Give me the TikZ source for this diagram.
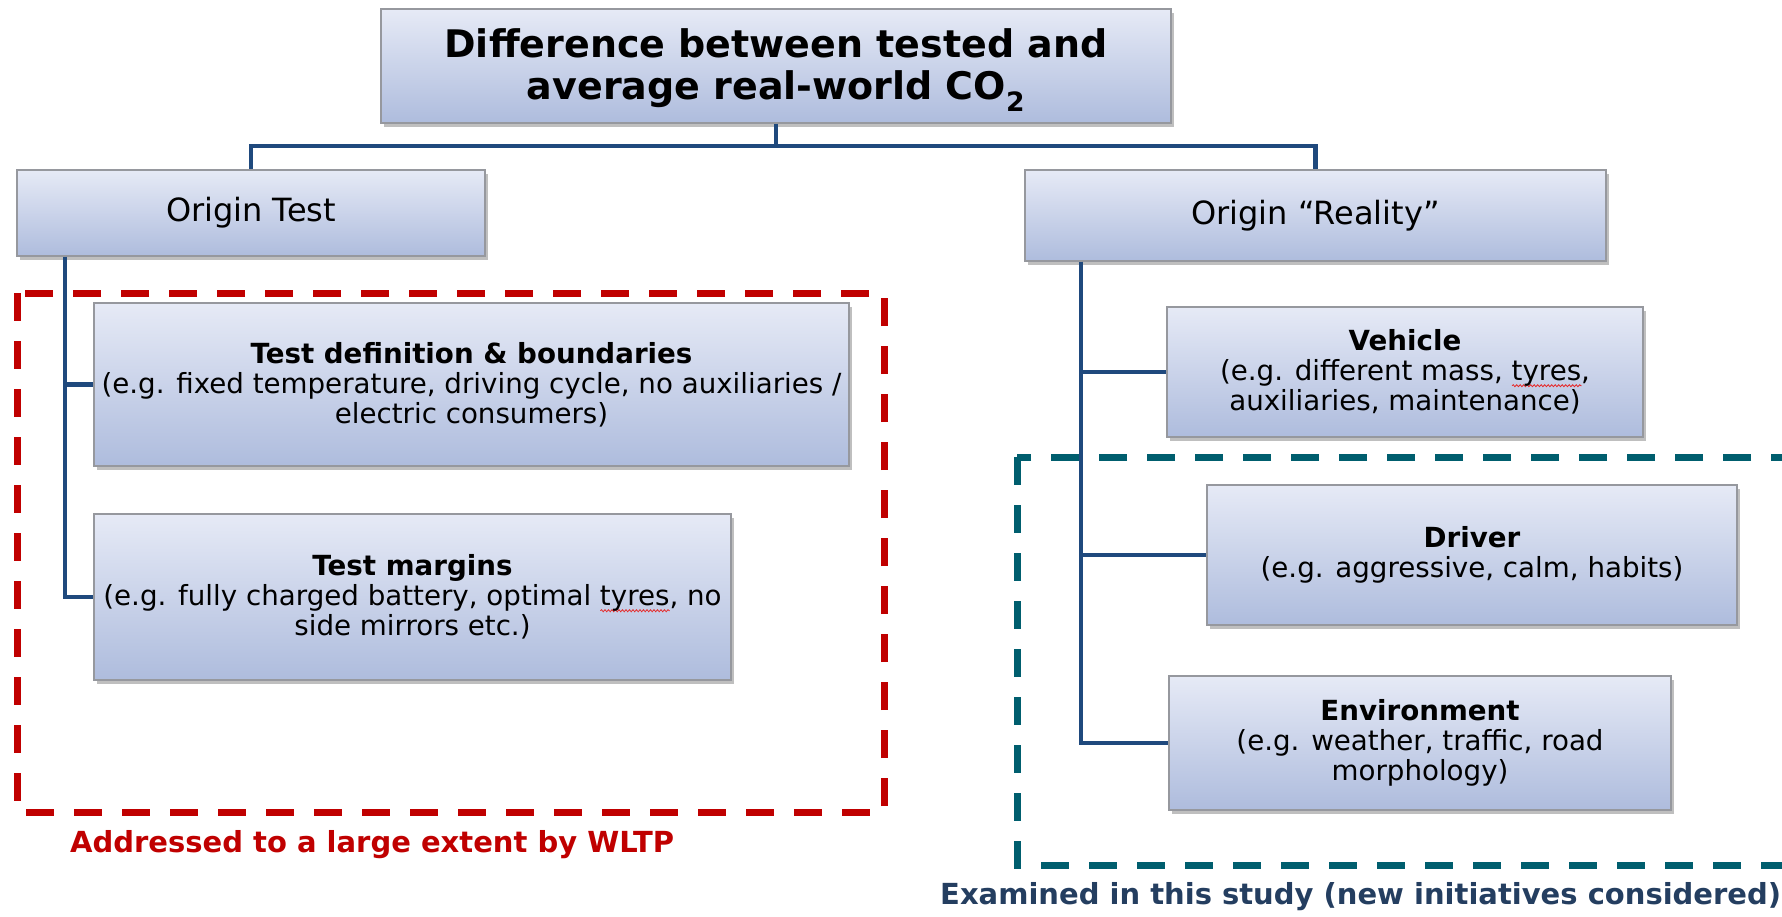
\documentclass[tikz,border=0pt]{standalone}
\usepackage{fontspec}
\setmainfont{DejaVu Sans}
\usetikzlibrary{shadows,calc,decorations.pathmorphing}
\definecolor{conn}{RGB}{31,73,125}
\definecolor{redd}{RGB}{192,0,0}
\definecolor{tealc}{RGB}{0,94,110}
\definecolor{navyc}{RGB}{36,62,96}
\definecolor{boxtop}{RGB}{230,234,246}
\definecolor{boxbot}{RGB}{174,188,221}
\definecolor{boxline}{RGB}{150,152,158}
\definecolor{squigred}{RGB}{230,40,40}
\newsavebox\squigbox
\newcommand\squig[1]{\sbox\squigbox{#1}\rlap{\tikz[baseline=0pt,x=1pt,y=1pt]\draw[squigred,line width=0.8pt,decorate,decoration={snake,amplitude=1pt,segment length=3.5pt}] (0,-5) -- (\the\wd\squigbox,-5);}#1}
\newcommand\bodyfont{\fontsize{27.7}{30}\selectfont}
\begin{document}
\begin{tikzpicture}[x=1pt,y=-1pt,
  pbox/.style={draw=boxline, line width=1.6pt, top color=boxtop, bottom color=boxbot,
    drop shadow={shadow xshift=3pt, shadow yshift=-4pt, opacity=0.25, fill=black},
    align=center, inner sep=0pt, font=\bodyfont},
  conline/.style={draw=conn, line width=4.5pt},
  dashbox/.style={line width=7pt, dash pattern=on 28pt off 20pt},
  lbl/.style={anchor=base west, inner sep=0pt, font=\fontsize{29}{32}\selectfont\bfseries}]
\useasboundingbox (0,0) rectangle (1782,916);
\fill[white] (0,0) rectangle (1782,916);
\clip (0,0) rectangle (1782,916);

% dashed frames
\draw[dashbox, draw=redd] (17,293) rectangle (884,812);
\draw[dashbox, draw=tealc] (1017,457) rectangle (1840,865);

% boxes
\node[pbox, minimum width=790, minimum height=114] (top) at (776,66) {};
\node[align=center, inner sep=0pt, font=\fontsize{38}{42}\selectfont\bfseries] (toptxt) at (776,70)
  {Difference between tested and\\average real-world CO\textsubscript{2}};
\node[pbox, minimum width=468, minimum height=86, font=\fontsize{32}{36}\selectfont] (ot) at (251,213) {Origin Test};
\node[pbox, minimum width=581, minimum height=91, font=\fontsize{32}{36}\selectfont] (or) at (1315.5,215.5) {Origin “Reality”};
\node[pbox, minimum width=755, minimum height=163] (td) at (471.5,384.5)
  {\textbf{Test definition \& boundaries}\\(e.g. fixed temperature, driving cycle, no auxiliaries /\\electric consumers)};
\node[pbox, minimum width=637, minimum height=166] (tm) at (412.5,597)
  {\textbf{Test margins}\\(e.g. fully charged battery, optimal \squig{tyres}, no\\side mirrors etc.)};
\node[pbox, minimum width=476, minimum height=130] (veh) at (1405,372)
  {\textbf{Vehicle}\\(e.g. different mass, \squig{tyres},\\auxiliaries, maintenance)};
\node[pbox, minimum width=530, minimum height=140] (drv) at (1472,555)
  {\textbf{Driver}\\(e.g. aggressive, calm, habits)};
\node[pbox, minimum width=502, minimum height=134] (env) at (1420,743)
  {\textbf{Environment}\\(e.g. weather, traffic, road\\morphology)};

% connectors
\draw[conline] (top.south) -- ++(0,22) -| (ot.north);
\draw[conline] (top.south) -- ++(0,22) -| (or.north);
\coordinate (tl) at ($(ot.south west)+(49,0)$);
\coordinate (tr) at ($(or.south west)+(57,0)$);
\draw[conline] (tl) |- (td.west);
\draw[conline] (tl) |- (tm.west);
\draw[conline] (tr) |- (veh.west);
\draw[conline] (tr) |- (drv.west);
\draw[conline] (tr) |- (env.west);

% labels
\node[lbl, text=redd] (lred) at (70,852) {Addressed to a large extent by WLTP};
\node[lbl, text=navyc] (lteal) at (940,904) {Examined in this study (new initiatives considered)};
\end{tikzpicture}
\end{document}
